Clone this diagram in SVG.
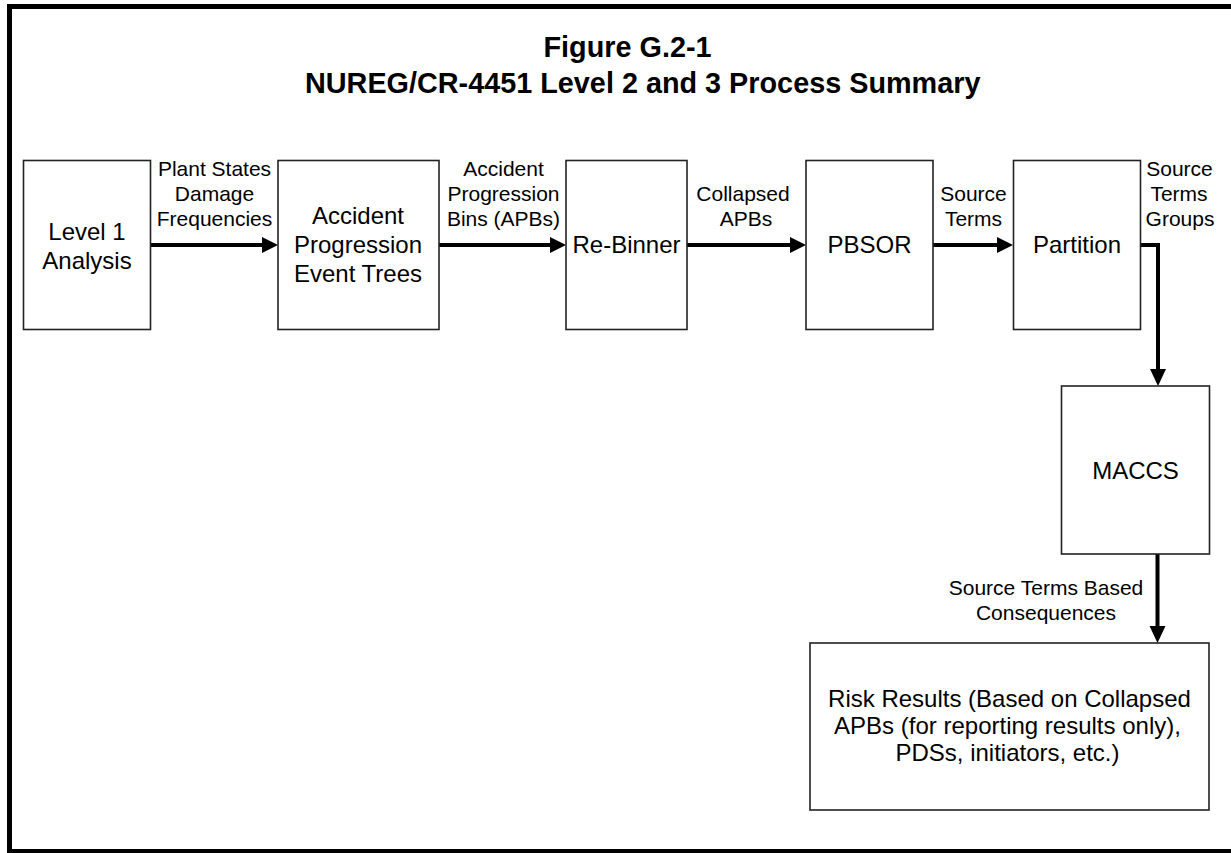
<svg xmlns="http://www.w3.org/2000/svg" width="1231" height="853" viewBox="0 0 1231 853">
<style>
.frame{fill:none;stroke:#000;stroke-width:5}
.box{fill:#fff;stroke:#222;stroke-width:1.6}
.t{font-family:"Liberation Sans",Arial,sans-serif;font-size:24px;fill:#000;text-anchor:middle}
.lb{font-family:"Liberation Sans",Arial,sans-serif;font-size:21px;fill:#000;text-anchor:middle}
.title{font-family:"Liberation Sans",Arial,sans-serif;font-size:28.8px;font-weight:bold;fill:#000}
.ln{fill:none;stroke:#000;stroke-width:4}
.ah{fill:#000;stroke:none}
</style>
<rect x="0" y="0" width="1231" height="853" fill="#fff"/>
<rect class="frame" x="9.5" y="6.5" width="1240" height="845"/>
<g id="title">
<text class="title" x="543.5" y="57">Figure G.2-1</text>
<text class="title" x="305" y="93">NUREG/CR-4451 Level 2 and 3 Process Summary</text>
</g>
<g id="connectors">
<line class="ln" x1="151" y1="245" x2="263" y2="245"/>
<polygon class="ah" points="262,237 278,245 262,253"/>
<line class="ln" x1="439" y1="245" x2="551" y2="245"/>
<polygon class="ah" points="550,237 566,245 550,253"/>
<line class="ln" x1="687" y1="245" x2="791" y2="245"/>
<polygon class="ah" points="790,237 806,245 790,253"/>
<line class="ln" x1="933" y1="245" x2="998" y2="245"/>
<polygon class="ah" points="997,237 1013,245 997,253"/>
<path class="ln" d="M1141,245 H1158 V370"/>
<polygon class="ah" points="1150,369 1158,386 1166,369"/>
<line class="ln" x1="1157.5" y1="554" x2="1157.5" y2="627"/>
<polygon class="ah" points="1149.5,626 1157.5,643 1165.5,626"/>
<text class="lb" x="214.5" y="176">Plant States</text>
<text class="lb" x="214.5" y="201">Damage</text>
<text class="lb" x="214.5" y="226">Frequencies</text>
<text class="lb" x="503.5" y="176">Accident</text>
<text class="lb" x="503.5" y="201">Progression</text>
<text class="lb" x="503.5" y="226">Bins (APBs)</text>
<text class="lb" x="743" y="201">Collapsed</text>
<text class="lb" x="746" y="226">APBs</text>
<text class="lb" x="973.5" y="201">Source</text>
<text class="lb" x="973.5" y="226">Terms</text>
<text class="lb" x="1179.5" y="176">Source</text>
<text class="lb" x="1179" y="201">Terms</text>
<text class="lb" x="1180" y="226">Groups</text>
<text class="lb" x="1046" y="595">Source Terms Based</text>
<text class="lb" x="1046" y="620">Consequences</text>
</g>
<g id="level1">
<rect class="box" x="23.5" y="160.5" width="127" height="169"/>
<text class="t" x="87" y="240">Level 1</text>
<text class="t" x="87" y="268.5">Analysis</text>
</g>
<g id="apet">
<rect class="box" x="278" y="160.5" width="161" height="169"/>
<text class="t" x="358" y="224">Accident</text>
<text class="t" x="358" y="253">Progression</text>
<text class="t" x="358" y="282">Event Trees</text>
</g>
<g id="rebinner">
<rect class="box" x="566" y="160.5" width="121" height="169"/>
<text class="t" x="626.5" y="253">Re-Binner</text>
</g>
<g id="pbsor">
<rect class="box" x="806" y="160.5" width="127" height="169"/>
<text class="t" x="869.5" y="253">PBSOR</text>
</g>
<g id="partition">
<rect class="box" x="1013.5" y="160.5" width="127" height="169"/>
<text class="t" x="1077" y="253">Partition</text>
</g>
<g id="maccs">
<rect class="box" x="1061.5" y="386" width="148" height="168"/>
<text class="t" x="1135.5" y="479">MACCS</text>
</g>
<g id="risk">
<rect class="box" x="810" y="643" width="399" height="167"/>
<text class="t" x="1009.5" y="707">Risk Results (Based on Collapsed</text>
<text class="t" x="1007.5" y="734">APBs (for reporting results only),</text>
<text class="t" x="1007.5" y="761">PDSs, initiators, etc.)</text>
</g>
</svg>
